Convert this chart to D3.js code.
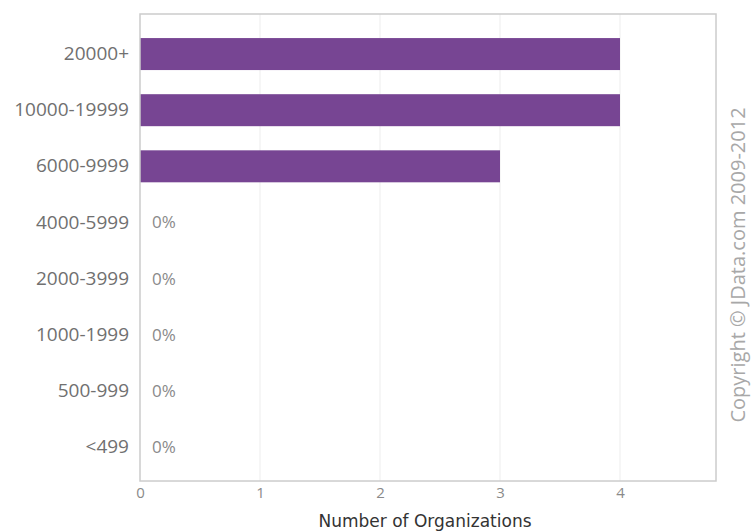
<!DOCTYPE html>
<html lang="en">
  <head>
    <meta charset="utf-8" />
    <title>Number of Organizations</title>
    <script src="https://cdnjs.cloudflare.com/ajax/libs/d3/7.8.5/d3.min.js"></script>
    <style>
      body { margin: 0; background: #fff; }
    </style>
  </head>
  <body>
    <div id="chart"></div>
    <script>
      // data
      const categories = ['20000+', '10000-19999', '6000-9999', '4000-5999', '2000-3999', '1000-1999', '500-999', '<499'];
      const counts = [4, 4, 3, 0, 0, 0, 0, 0];
      const xTicks = [0, 1, 2, 3, 4];
      const data = categories.map((c, i) => ({ cat: c, value: counts[i] }));

      const width = 756, height = 531;
      const plot = { left: 140, top: 14, right: 716, bottom: 481 };

      const svg = d3.select('#chart').append('svg')
        .attr('width', width)
        .attr('height', height);

      const x = d3.scaleLinear().domain([0, 4.8]).range([plot.left, plot.right]);
      const y = d3.scaleBand().domain(categories).range([26, 475]).paddingInner(0.43).paddingOuter(0.215);

      // grid lines
      svg.append('g')
        .selectAll('line')
        .data(xTicks.filter(d => d > 0))
        .join('line')
        .attr('x1', d => x(d)).attr('x2', d => x(d))
        .attr('y1', plot.top).attr('y2', plot.bottom)
        .attr('stroke', '#ededed');

      // bars
      svg.append('g')
        .selectAll('rect')
        .data(data.filter(d => d.value > 0))
        .join('rect')
        .attr('x', x(0))
        .attr('y', d => y(d.cat))
        .attr('width', d => x(d.value) - x(0))
        .attr('height', y.bandwidth())
        .attr('fill', '#774593');

      // zero labels
      svg.append('g')
        .selectAll('text')
        .data(data.filter(d => d.value === 0))
        .join('text')
        .attr('x', x(0) + 12)
        .attr('y', d => y(d.cat) + y.bandwidth() / 2)
        .attr('dy', '0.35em')
        .attr('font-family', '"Open Sans", sans-serif')
        .attr('font-size', 17)
        .attr('fill', '#8a8a8a')
        .text('0%');

      // plot frame
      svg.append('rect')
        .attr('x', plot.left).attr('y', plot.top)
        .attr('width', plot.right - plot.left)
        .attr('height', plot.bottom - plot.top)
        .attr('fill', 'none')
        .attr('stroke', '#cccccc')
        .attr('stroke-width', 1.5);

      // category axis
      const yAxis = d3.axisLeft(y).tickSize(0).tickPadding(11);
      svg.append('g')
        .attr('transform', `translate(${plot.left},0)`)
        .call(yAxis)
        .call(g => g.select('.domain').remove())
        .call(g => g.selectAll('text')
          .attr('font-family', '"Open Sans", sans-serif')
          .attr('font-size', 19)
          .attr('fill', '#707070'));

      // value axis
      const xAxis = d3.axisBottom(x).tickValues(xTicks).tickSize(0).tickPadding(6).tickFormat(d3.format('d'));
      svg.append('g')
        .attr('transform', `translate(0,${plot.bottom})`)
        .call(xAxis)
        .call(g => g.select('.domain').remove())
        .call(g => g.selectAll('text')
          .attr('font-family', '"Open Sans", sans-serif')
          .attr('font-size', 15)
          .attr('fill', '#8a8a8a'));

      // axis title
      svg.append('text')
        .attr('x', (plot.left + plot.right) / 2 - 3)
        .attr('y', 527)
        .attr('text-anchor', 'middle')
        .attr('font-family', '"DejaVu Sans", sans-serif')
        .attr('font-size', 17)
        .attr('fill', '#333')
        .text('Number of Organizations');

      // copyright
      svg.append('text')
        .attr('transform', 'translate(745,265) rotate(-90)')
        .attr('text-anchor', 'middle')
        .attr('font-family', '"Open Sans", sans-serif')
        .attr('font-size', 20)
        .attr('fill', '#a8a8a8')
        .text('Copyright \u00a9 JData.com 2009-2012');
    </script>
  </body>
</html>
